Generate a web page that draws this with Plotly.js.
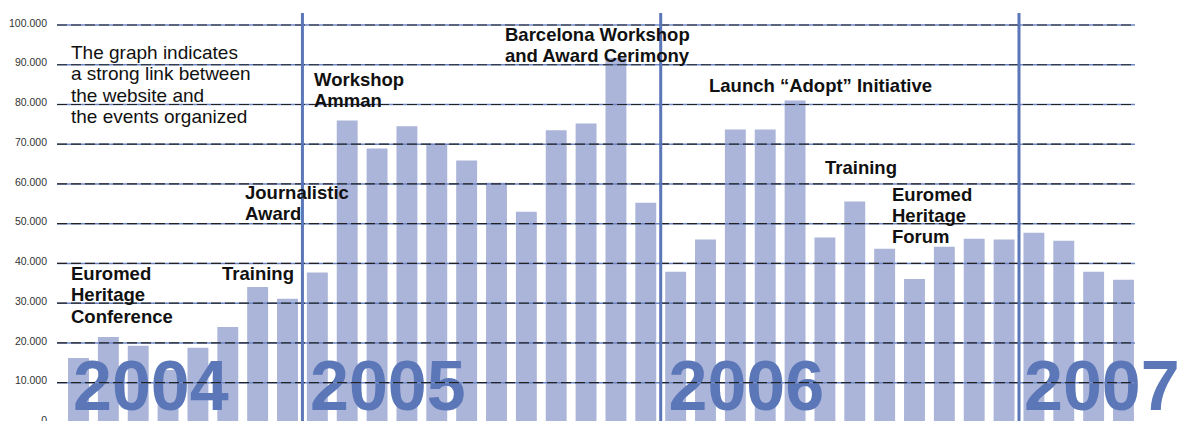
<!DOCTYPE html>
<html>
<head>
<meta charset="utf-8">
<script src="https://cdn.plot.ly/plotly-3.0.1.min.js"></script>
<style>
html,body{margin:0;padding:0;overflow:hidden;background:#fff;}
#chart{width:1180px;height:425px;}
</style>
</head>
<body>
<div id="chart"></div>
<script>
// ---- data ----
const months2004 = ["May 2004","Jun 2004","Jul 2004","Aug 2004","Sep 2004","Oct 2004","Nov 2004","Dec 2004"];
const months2005 = ["Jan 2005","Feb 2005","Mar 2005","Apr 2005","May 2005","Jun 2005","Jul 2005","Aug 2005","Sep 2005","Oct 2005","Nov 2005","Dec 2005"];
const months2006 = ["Jan 2006","Feb 2006","Mar 2006","Apr 2006","May 2006","Jun 2006","Jul 2006","Aug 2006","Sep 2006","Oct 2006","Nov 2006","Dec 2006"];
const months2007 = ["Jan 2007","Feb 2007","Mar 2007","Apr 2007"];

const visits2004 = [16200, 21500, 19300, 13200, 18800, 24000, 34100, 31100];
const visits2005 = [37700, 76000, 68900, 74500, 70100, 65900, 60300, 53000, 73500, 75200, 91700, 55300];
const visits2006 = [37900, 46000, 73700, 73700, 81000, 46500, 55600, 43700, 36100, 44200, 46200, 46000];
const visits2007 = [47700, 45700, 37900, 35900];

const yearLabels = ["2004","2005","2006","2007"];
const yTicks = [0,10000,20000,30000,40000,50000,60000,70000,80000,90000,100000];

const noteLines = ["The graph indicates","a strong link between","the website and","the events organized"];
const eventLabels = [
  {lines:["Euromed","Heritage","Conference"]},
  {lines:["Training"]},
  {lines:["Journalistic","Award"]},
  {lines:["Workshop","Amman"]},
  {lines:["Barcelona Workshop","and Award Cerimony"]},
  {lines:["Launch \u201cAdopt\u201d Initiative"]},
  {lines:["Training"]},
  {lines:["Euromed","Heritage","Forum"]}
];

// ---- layout helpers ----
const months = months2004.concat(months2005, months2006, months2007);
const visits = visits2004.concat(visits2005, visits2006, visits2007);
const yearStarts = [0, months2004.length, months2004.length+months2005.length, months2004.length+months2005.length+months2006.length];

const W = 1180, H = 425, ML = 57, MR = 45;
const X0 = 78.5, DX = 29.857;           // pixel of first bar centre, px per bar
const Y0 = 422.4, KY = 0.003974;         // pixel of value 0, px per unit
const px2x = p => (p - X0) / DX;
const py2y = p => (Y0 - p) / KY;
const xRange = [px2x(ML), px2x(W - MR)];
const yRange = [py2y(H), py2y(0)];

const FONT = "Liberation Sans, Arial, Helvetica, sans-serif";
const BAR = "#abb4d9";
const BLUE = "#5b77b8";

const traces = [
  {
    type: "bar", x: months, y: visits,
    marker: {color: BAR, line: {width: 0}},
    hoverinfo: "x+y", xaxis: "x", yaxis: "y"
  },
  {
    type: "scatter", mode: "text",
    x: [px2x(73), px2x(310), px2x(668.5), px2x(1024)],
    y: [py2y(392), py2y(392), py2y(392), py2y(392)],
    text: yearLabels, textposition: "middle right",
    textfont: {family: FONT, size: 70, color: BLUE, weight: "bold"},
    cliponaxis: false, hoverinfo: "skip", xaxis: "x2", yaxis: "y"
  }
];

const shapes = [];
for (const t of yTicks) {
  if (t === 0) continue;
  shapes.push({type:"line", xref:"paper", yref:"y", x0:0, x1:1, y0:t, y1:t, layer:"above",
    line:{color:"#6f88c8", width:1.5}});
  shapes.push({type:"line", xref:"paper", yref:"y", x0:0, x1:1, y0:t, y1:t, layer:"above",
    line:{color:"#222", width:1.2, dash:"10px,4px"}});
}
for (let i = 1; i < yearStarts.length; i++) {
  const xv = yearStarts[i] - 0.5;
  shapes.push({type:"line", xref:"x2", yref:"y", x0:xv, x1:xv, y0:yRange[0], y1:py2y(13), layer:"above",
    line:{color:BLUE, width:3}});
}

const annotations = [];
function addLines(lines, leftPx, firstCenterPx, gap, bold, size) {
  lines.forEach((ln, k) => {
    annotations.push({
      xref:"x2", yref:"y", x: px2x(leftPx), y: py2y(firstCenterPx + k*gap),
      xanchor:"left", yanchor:"middle", showarrow:false, text: ln,
      font:{family: FONT, size: size, color:"#111", weight: bold ? "bold" : "normal"}
    });
  });
}
addLines(noteLines, 68.5, 52.5, 21.3, false, 19);
const evPos = [[68.5,273.5],[219.5,273.5],[242.5,192],[311.5,79.3],[502.5,34.2],[706.5,85],[822.5,167],[889.5,194]];
eventLabels.forEach((e, i) => addLines(e.lines, evPos[i][0], evPos[i][1], 21.4, true, 18.5));

const layout = {
  width: W, height: H,
  margin: {l: ML, r: MR, t: 0, b: 0, pad: 0},
  paper_bgcolor: "#fff", plot_bgcolor: "#fff",
  separators: ",.",
  showlegend: false,
  bargap: 0.3,
  xaxis: {type:"category", range: xRange, showticklabels:false, showgrid:false, zeroline:false, showline:false, ticks:""},
  xaxis2: {type:"linear", overlaying:"x", range: xRange, visible:false},
  yaxis: {range: yRange, tickvals: yTicks, tickformat: ",d", showgrid:false, zeroline:false, showline:false,
    ticks:"", ticklabelstandoff: 9, ticklabelshift: -2, ticklabeloverflow: "allow",
    tickfont:{family: FONT, size: 10.5, color:"#333"}},
  shapes: shapes,
  annotations: annotations,
  font: {family: FONT}
};

Plotly.newPlot("chart", traces, layout, {displayModeBar:false, staticPlot:true});
</script>
</body>
</html>
